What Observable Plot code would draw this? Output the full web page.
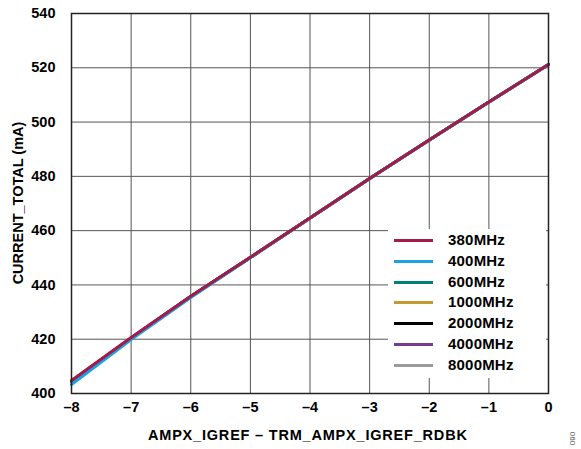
<!DOCTYPE html>
<html>
<head>
<meta charset="utf-8">
<script src="https://cdn.jsdelivr.net/npm/d3@7"></script>
<script src="https://cdn.jsdelivr.net/npm/@observablehq/plot@0.6"></script>
<style>
  html, body { margin: 0; padding: 0; background: #fff; }
  #wrap { position: relative; width: 581px; height: 449px; font-family: "Liberation Sans", Arial, sans-serif; font-weight: bold; color: #000; }
  #wrap svg { position: absolute; left: 0; top: 0; }
  .lbl { position: absolute; font-size: 14.5px; white-space: nowrap; }
  #legend { position: absolute; left: 388px; top: 229px; width: 158px; height: 149px; background: #fff; }
  .row { position: absolute; left: 0; height: 20px; }
  .sw { position: absolute; left: 6px; top: 10px; width: 39px; height: 3px; }
  .tx { position: absolute; left: 60px; top: 2px; font-size: 15px; letter-spacing: 0.2px; }
  #fig { position: absolute; font-size: 8px; font-weight: normal; color: #555; transform: rotate(90deg); }
</style>
</head>
<body>
<div id="wrap"></div>
<script>
const xValues = [-8, -7, -6, -5, -4, -3, -2, -1, 0];
const series380 = [404.8, 420.6, 435.8, 450.2, 464.7, 479.2, 493.4, 507.4, 521.2];
const series400 = [403.3, 419.9, 435.4, 450.0, 464.6, 479.1, 493.3, 507.3, 521.1];
const series600 = [404.5, 420.4, 435.7, 450.1, 464.7, 479.2, 493.4, 507.4, 521.2];
const series1000 = [404.5, 420.4, 435.7, 450.1, 464.7, 479.2, 493.4, 507.4, 521.2];
const series2000 = [404.5, 420.4, 435.7, 450.1, 464.7, 479.2, 493.4, 507.4, 521.2];
const series4000 = [404.5, 420.4, 435.7, 450.1, 464.7, 479.2, 493.4, 507.4, 521.2];
const series8000 = [404.5, 420.4, 435.7, 450.1, 464.7, 479.2, 493.4, 507.4, 521.2];
const seriesNames = ["380MHz", "400MHz", "600MHz", "1000MHz", "2000MHz", "4000MHz", "8000MHz"];
const seriesColors = ["#a31a4b", "#1aa3dc", "#00807a", "#c29a30", "#000000", "#7a3a90", "#9a9a9a"];
const xTicks = [-8, -7, -6, -5, -4, -3, -2, -1, 0];
const yTicks = [400, 420, 440, 460, 480, 500, 520, 540];
const xLabel = "AMPX_IGREF – TRM_AMPX_IGREF_RDBK";
const yLabel = "CURRENT_TOTAL (mA)";
const figNote = "060";

const allSeries = [series380, series400, series600, series1000, series2000, series4000, series8000];
const rows = [];
allSeries.forEach((vals, i) => vals.forEach((v, j) => rows.push({x: xValues[j], y: v, s: seriesNames[i]})));
const drawOrder = [6, 5, 4, 3, 2, 1, 0];

const fmt = d => d < 0 ? "\u2013" + (-d) : String(d);

const chart = Plot.plot({
  width: 581,
  height: 449,
  marginLeft: 71,
  marginRight: 33,
  marginTop: 13,
  marginBottom: 56,
  style: {fontFamily: "Liberation Sans, Arial, sans-serif", fontSize: "14.5px", fontWeight: "bold", color: "#000", background: "#fff"},
  x: {domain: [-8, 0]},
  y: {domain: [400, 540]},
  marks: [
    Plot.gridX(xTicks, {stroke: "#555", strokeOpacity: 1, strokeWidth: 1}),
    Plot.gridY(yTicks, {stroke: "#555", strokeOpacity: 1, strokeWidth: 1}),
    ...drawOrder.map(i => Plot.line(rows.filter(r => r.s === seriesNames[i]), {x: "x", y: "y", stroke: seriesColors[i], strokeWidth: 3})),
    Plot.frame({stroke: "#222", strokeWidth: 1.5}),
    Plot.axisX(xTicks, {tickSize: 0, tickPadding: 8, tickFormat: fmt, label: null, fontSize: 14.5, fontWeight: "bold"}),
    Plot.axisY(yTicks, {tickSize: 0, tickPadding: 16, tickFormat: fmt, label: null, fontSize: 14.5, fontWeight: "bold"})
  ]
});

const wrap = document.getElementById("wrap");
wrap.appendChild(chart);

const xl = document.createElement("div");
xl.className = "lbl";
xl.style.letterSpacing = "0.8px";
xl.textContent = xLabel;
wrap.appendChild(xl);
xl.style.top = "427px";
xl.style.left = (308 - xl.offsetWidth / 2) + "px";

const yl = document.createElement("div");
yl.className = "lbl";
yl.textContent = yLabel;
wrap.appendChild(yl);
const w = yl.offsetWidth, h = yl.offsetHeight;
yl.style.left = (18 - w / 2) + "px";
yl.style.top = (203 - h / 2) + "px";
yl.style.transform = "rotate(-90deg)";

const leg = document.createElement("div");
leg.id = "legend";
seriesNames.forEach((n, i) => {
  const r = document.createElement("div");
  r.className = "row";
  r.style.top = (0 + i * 20.8) + "px";
  r.innerHTML = `<div class="sw" style="background:${seriesColors[i]}"></div><div class="tx">${n}</div>`;
  leg.appendChild(r);
});
wrap.appendChild(leg);

const fg = document.createElement("div");
fg.id = "fig";
fg.textContent = figNote;
wrap.appendChild(fg);
fg.style.left = (572 - fg.offsetWidth / 2) + "px";
fg.style.top = (438 - fg.offsetHeight / 2) + "px";
</script>
</body>
</html>
